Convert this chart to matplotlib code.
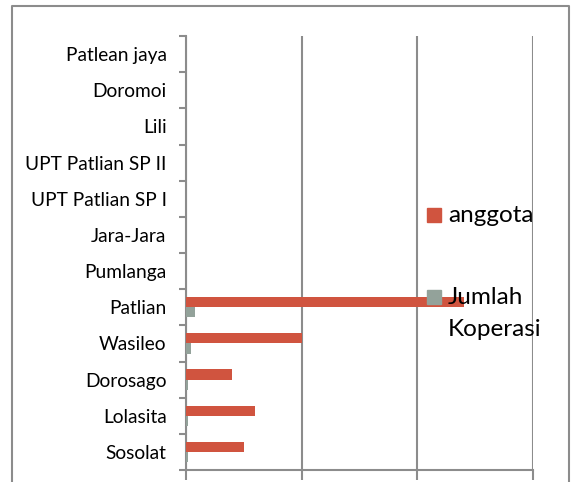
import numpy as np
import matplotlib
matplotlib.use("Agg")
import matplotlib.pyplot as plt
from matplotlib.lines import Line2D
from matplotlib.patches import Rectangle

# Data (bottom -> top)
desa = ["Sosolat", "Lolasita", "Dorosago", "Wasileo", "Patlian", "Pumlanga",
        "Jara-Jara", "UPT Patlian SP I", "UPT Patlian SP II", "Lili",
        "Doromoi", "Patlean jaya"]
anggota = [25, 30, 20, 50, 120, 0, 0, 0, 0, 0, 0, 0]
koperasi = [1, 1, 1, 2, 4, 0, 0, 0, 0, 0, 0, 0]

RED = "#D0543F"
GREY = "#93A29A"
LINE = "#8C8C8C"

plt.rcParams['font.family'] = ['Lato', 'DejaVu Sans']

W, H = 573, 482
fig = plt.figure(figsize=(W / 100, H / 100), dpi=100)
ax = fig.add_axes([186 / W, 1 - 470 / H, (533 - 186) / W, (470 - 36) / H])

y = np.arange(len(desa))
bh = 0.28
ax.barh(y + bh / 2, anggota, height=bh, color=RED, label="anggota", zorder=3)
ax.barh(y - bh / 2, koperasi, height=bh, color=GREY, label="Jumlah Koperasi", zorder=3)

ax.set_xlim(0, 150)
ax.set_ylim(-0.5, len(desa) - 0.5)
ax.set_xticks([0, 50, 100, 150])
ax.xaxis.grid(True, color=LINE, linewidth=1.5, zorder=0)
ax.tick_params(axis='x', direction='out', length=7, width=1.5, color=LINE, labelbottom=False)

ax.set_yticks(y)
ax.set_yticklabels(desa, fontsize=13.8)
ax.set_yticks(np.arange(-0.5, len(desa), 1), minor=True)
ax.tick_params(axis='y', which='major', length=0, pad=14)
ax.tick_params(axis='y', which='minor', direction='out', length=5, width=1.5, color=LINE)

for s in ['top', 'right']:
    ax.spines[s].set_visible(False)
for s in ['left', 'bottom']:
    ax.spines[s].set_color(LINE)
    ax.spines[s].set_linewidth(1.5)

# outer chart frame (cut off at the bottom)
fx = [12 / W, 12 / W, 569 / W, 569 / W]
fy = [0, 1 - 6 / H, 1 - 6 / H, 0]
fig.add_artist(Line2D(fx, fy, color=LINE, linewidth=1.5, transform=fig.transFigure))

# legend drawn over the plot
def legend_entry(px, py, color, lines):
    fig.add_artist(Rectangle((px / W, 1 - (py + 7) / H), 14 / W, 14 / H,
                             color=color, transform=fig.transFigure, zorder=5))
    for i, t in enumerate(lines):
        fig.text((px + 21) / W, 1 - (py + i * 33) / H, t, fontsize=17.5,
                 va='center', ha='left', zorder=6)

legend_entry(427, 215, RED, ["anggota"])
legend_entry(427, 297, GREY, ["Jumlah", "Koperasi"])

fig.savefig("out.png", dpi=100)
